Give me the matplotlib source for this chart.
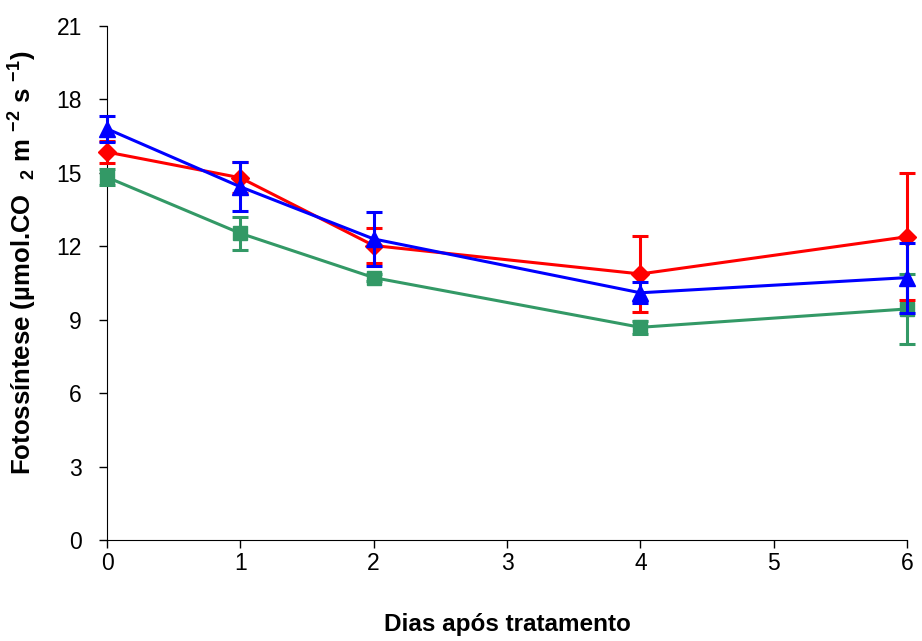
"""Fotossíntese ao longo dos dias após tratamento, três tratamentos com erro padrão."""

import matplotlib

matplotlib.use("Agg")
import matplotlib.pyplot as plt

plt.rcParams["font.family"] = ["Liberation Sans", "DejaVu Sans"]
plt.rcParams["mathtext.fontset"] = "custom"
plt.rcParams["mathtext.rm"] = "Liberation Sans:bold"
plt.rcParams["mathtext.default"] = "rm"

dias = [0, 1, 2, 4, 6]

# tratamento vermelho (losango)
red_y = [15.85, 14.8, 12.03, 10.87, 12.39]
red_err = [0.45, 0.63, 0.70, 1.57, 2.60]

# tratamento azul (triângulo)
blue_y = [16.8, 14.43, 12.3, 10.1, 10.72]
blue_err = [0.54, 1.0, 1.1, 0.43, 1.43]

# tratamento verde (quadrado)
green_y = [14.82, 12.53, 10.72, 8.69, 9.44]
green_err = [0.33, 0.68, 0.15, 0.27, 1.42]

y_ticks = [0, 3, 6, 9, 12, 15, 18, 21]
x_ticks = [0, 1, 2, 3, 4, 5, 6]

fig = plt.figure(figsize=(9.22, 6.41), dpi=100)
ax = fig.add_axes([107 / 922, 101 / 641, 800 / 922, 514 / 641])

series = [
    (green_y, green_err, "#339966", "s", 10),
    (red_y, red_err, "#ff0000", "D", 9),
    (blue_y, blue_err, "#0000ff", "^", 11),
]
for k, (vals, err, color, marker, ms) in enumerate(series):
    ax.errorbar(dias, vals, yerr=err, color=color, marker=marker, markersize=ms,
                linewidth=2.2, elinewidth=2.2, capsize=6, capthick=2.2,
                clip_on=False, zorder=3 + k)

ax.set_xlim(0, 6)
ax.set_ylim(0, 21)
ax.set_xticks(x_ticks)
ax.set_yticks(y_ticks)
ax.tick_params(direction="out", length=6, width=1, labelsize=16.5)
ax.tick_params(axis="y", pad=12)
ax.tick_params(axis="x", pad=3)
for side in ("top", "right"):
    ax.spines[side].set_visible(False)

ax.set_xlabel("Dias após tratamento", fontsize=17.5, fontweight="bold", labelpad=27)
ax.set_ylabel(r"Fotossíntese (µmol.CO  $_{2}$ m $^{-2}$ s $^{-1}$)",
              fontsize=18.5, fontweight="bold")
ax.yaxis.set_label_coords(-0.085, 0.54)

fig.savefig("out.png", dpi=100)
